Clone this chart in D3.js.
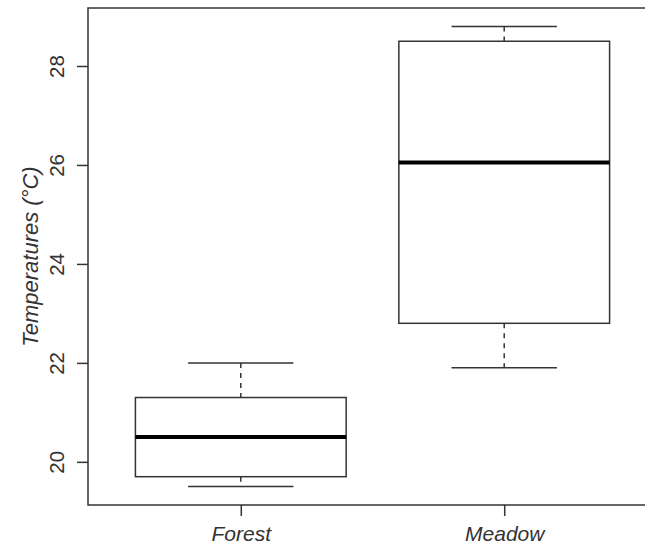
<!DOCTYPE html>
<html>
<head>
<meta charset="utf-8">
<script src="https://cdn.jsdelivr.net/npm/d3@7"></script>
<style>
  html, body { margin: 0; padding: 0; background: #fff; }
  svg { display: block; }
</style>
</head>
<body>
<svg id="chart" width="645" height="547"></svg>
<script>
const categories = ["Forest", "Meadow"];
const whiskerLow = [19.5, 21.9];
const q1 = [19.7, 22.8];
const medians = [20.5, 26.05];
const q3 = [21.3, 28.5];
const whiskerHigh = [22.0, 28.8];
const yTicks = [20, 22, 24, 26, 28];
const yLabel = "Temperatures (°C)";

const svg = d3.select("#chart");
const plot = { left: 88, top: 8, right: 657, bottom: 505 };
const lineColor = "#333";
const textColor = "#333";
const font = "Liberation Sans, Arial, sans-serif";

// R-style 4% axis expansion
const yMin = d3.min(whiskerLow), yMax = d3.max(whiskerHigh);
const yPad = (yMax - yMin) * 0.04;
const y = d3.scaleLinear().domain([yMin - yPad, yMax + yPad]).range([plot.bottom, plot.top]);
const xPad = categories.length * 0.04;
const x = d3.scaleLinear().domain([0.5 - xPad, categories.length + 0.5 + xPad]).range([plot.left, plot.right]);

const boxW = 0.8, capW = 0.4;

const g = svg.append("g");

categories.forEach((c, i) => {
  const cx = x(i + 1);
  const half = (x(i + 1 + boxW / 2) - x(i + 1 - boxW / 2)) / 2;
  const capHalf = (x(i + 1 + capW / 2) - x(i + 1 - capW / 2)) / 2;
  g.append("line").attr("x1", cx).attr("x2", cx).attr("y1", y(whiskerHigh[i])).attr("y2", y(q3[i]))
    .attr("stroke", lineColor).attr("stroke-width", 1.5).attr("stroke-dasharray", "5,5");
  g.append("line").attr("x1", cx).attr("x2", cx).attr("y1", y(q1[i])).attr("y2", y(whiskerLow[i]))
    .attr("stroke", lineColor).attr("stroke-width", 1.5).attr("stroke-dasharray", "5,5");
  [whiskerHigh[i], whiskerLow[i]].forEach(v => {
    g.append("line").attr("x1", cx - capHalf).attr("x2", cx + capHalf).attr("y1", y(v)).attr("y2", y(v))
      .attr("stroke", lineColor).attr("stroke-width", 1.5);
  });
  g.append("rect").attr("x", cx - half).attr("y", y(q3[i])).attr("width", 2 * half)
    .attr("height", y(q1[i]) - y(q3[i])).attr("fill", "none").attr("stroke", lineColor).attr("stroke-width", 1.5);
  g.append("line").attr("x1", cx - half).attr("x2", cx + half).attr("y1", y(medians[i])).attr("y2", y(medians[i]))
    .attr("stroke", "#000").attr("stroke-width", 4);
});

svg.append("rect").attr("x", plot.left).attr("y", plot.top)
  .attr("width", plot.right - plot.left).attr("height", plot.bottom - plot.top)
  .attr("fill", "none").attr("stroke", lineColor).attr("stroke-width", 1.5);

const yAxis = svg.append("g").attr("transform", `translate(${plot.left},0)`)
  .call(d3.axisLeft(y).tickValues(yTicks).tickSize(11).tickFormat(d3.format("d")));
yAxis.select(".domain").remove();
yAxis.selectAll(".tick line").attr("stroke", lineColor).attr("stroke-width", 1.5);
yAxis.selectAll(".tick text")
  .attr("transform", "rotate(-90)")
  .attr("x", 0).attr("y", -24).attr("dy", 0)
  .attr("text-anchor", "middle")
  .attr("fill", textColor)
  .style("font-family", font).style("font-size", "20.5px");

const xAxis = svg.append("g").attr("transform", `translate(0,${plot.bottom})`)
  .call(d3.axisBottom(x).tickValues(categories.map((c, i) => i + 1)).tickSize(11)
    .tickFormat((d) => categories[d - 1]));
xAxis.select(".domain").remove();
xAxis.selectAll(".tick line").attr("stroke", lineColor).attr("stroke-width", 1.5);
xAxis.selectAll(".tick text")
  .attr("y", 36).attr("dy", 0)
  .attr("fill", textColor)
  .style("font-family", font).style("font-size", "21px").style("font-style", "italic");

svg.append("text")
  .attr("transform", `translate(38,${(plot.top + plot.bottom) / 2}) rotate(-90)`)
  .attr("text-anchor", "middle")
  .attr("fill", textColor)
  .style("font-family", font).style("font-size", "22px").style("font-style", "italic")
  .text(yLabel);
</script>
</body>
</html>
